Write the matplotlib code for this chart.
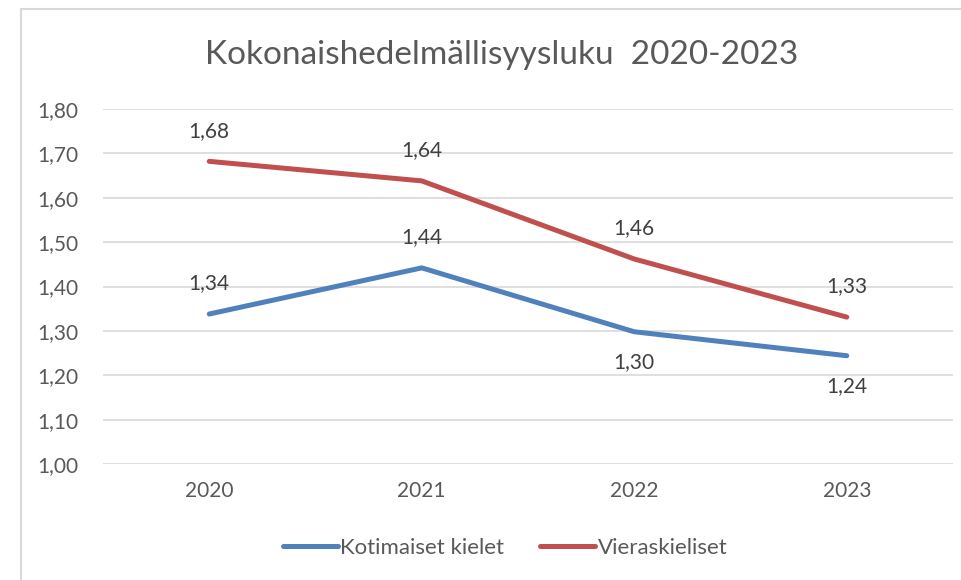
import matplotlib.pyplot as plt
from matplotlib.patches import Rectangle

plt.rcParams['font.family'] = ['Lato', 'DejaVu Sans']

years = ['2020', '2021', '2022', '2023']
kotimaiset = [1.338, 1.442, 1.298, 1.244]
vieraskieliset = [1.682, 1.638, 1.462, 1.331]
# label below the point for these (blue series)
koti_below = [False, False, True, True]

blue = '#4F81BD'
red = '#C0504D'
grey_txt = '#595959'

fig = plt.figure(figsize=(9.61, 5.80), dpi=100)
ax = fig.add_axes([103/961, 1 - 464/580, 850/961, 355/580])

x = range(len(years))
ax.plot(x, kotimaiset, color=blue, lw=3.6, solid_capstyle='round', solid_joinstyle='round', label='Kotimaiset kielet')
ax.plot(x, vieraskieliset, color=red, lw=3.6, solid_capstyle='round', solid_joinstyle='round', label='Vieraskieliset')

def fmt(v):
    return f'{v:.2f}'.replace('.', ',')

for i, v in enumerate(vieraskieliset):
    ax.annotate(fmt(v), (i, v), xytext=(0, 22), textcoords='offset points',
                ha='center', va='center', fontsize=15, color='#404040')
for i, v in enumerate(kotimaiset):
    dy = -22 if koti_below[i] else 22
    ax.annotate(fmt(v), (i, v), xytext=(0, dy), textcoords='offset points',
                ha='center', va='center', fontsize=15, color='#404040')

ax.set_xlim(-0.5, 3.5)
ax.set_ylim(1.0, 1.8)
ax.set_xticks(list(x))
ax.set_xticklabels(years)
yt = [1.0 + 0.1 * k for k in range(9)]
ax.set_yticks(yt)
ax.set_yticklabels([fmt(t) for t in yt])
ax.tick_params(length=0, labelsize=15, colors=grey_txt)
ax.tick_params(axis='y', pad=18)
ax.tick_params(axis='x', pad=12)
ax.grid(axis='y', color='#D9D9D9', lw=1.2)
ax.set_axisbelow(True)
for s in ax.spines.values():
    s.set_visible(False)

fig.text(502/961, 1 - 55/580, 'Kokonaishedelmällisyysluku  2020-2023', ha='center', va='center',
         fontsize=24, color=grey_txt)

fig.legend(loc='center', bbox_to_anchor=(505/961, 1 - 548/580), ncol=2, frameon=False,
           fontsize=16, labelcolor=grey_txt, handlelength=2.5, handletextpad=0.1, columnspacing=1.6)

fig.patches.append(Rectangle((21/961, -0.1), 1.1, 1 - 9/580 + 0.1, transform=fig.transFigure,
                             fill=False, edgecolor='#D9D9D9', lw=1.5))

fig.savefig('out.png', dpi=100)
